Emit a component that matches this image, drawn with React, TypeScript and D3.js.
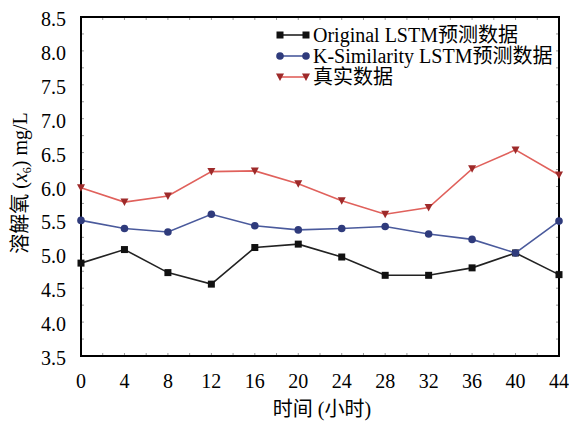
import React, { useEffect, useRef } from 'react';
import * as d3 from 'd3';

const hours = [0, 4, 8, 12, 16, 20, 24, 28, 32, 36, 40, 44];
const originalLstm = [4.87, 5.07, 4.73, 4.56, 5.10, 5.15, 4.96, 4.69, 4.69, 4.80, 5.02, 4.70];
const kSimilarityLstm = [5.50, 5.38, 5.33, 5.59, 5.42, 5.36, 5.38, 5.41, 5.30, 5.22, 5.02, 5.49];
const actual = [5.98, 5.77, 5.86, 6.22, 6.23, 6.04, 5.79, 5.59, 5.69, 6.26, 6.54, 6.17];
const yTicks = [3.5, 4.0, 4.5, 5.0, 5.5, 6.0, 6.5, 7.0, 7.5, 8.0, 8.5];
const seriesNames = ['Original LSTM预测数据', 'K-Similarity LSTM预测数据', '真实数据'];

const FONT = '"Liberation Serif", "Times New Roman", "Noto Sans CJK SC", serif';

const App = () => {
    const ref = useRef<SVGSVGElement>(null);

    useEffect(() => {
        var svg = d3.select(ref.current);
        svg.selectAll('*').remove();

        var left = 81, right = 559, top = 17, bottom = 356;

        var x = d3.scaleLinear().domain([0, 44]).range([left, right]);
        var y = d3.scaleLinear().domain([3.5, 8.5]).range([bottom, top]);

        // small inward ticks, faint
        var ticks = svg.append('g').attr('stroke', '#999').attr('stroke-width', 1);
        d3.range(0, 44.01, 2).forEach(v => {
            ticks.append('line').attr('x1', x(v)).attr('x2', x(v)).attr('y1', bottom).attr('y2', bottom - 3);
            ticks.append('line').attr('x1', x(v)).attr('x2', x(v)).attr('y1', top).attr('y2', top + 3);
        });
        d3.range(3.5, 8.51, 0.25).forEach(v => {
            ticks.append('line').attr('x1', left).attr('x2', left + 3).attr('y1', y(v)).attr('y2', y(v));
            ticks.append('line').attr('x1', right).attr('x2', right - 3).attr('y1', y(v)).attr('y2', y(v));
        });

        // frame
        svg.append('rect')
            .attr('x', left).attr('y', top)
            .attr('width', right - left).attr('height', bottom - top)
            .attr('fill', 'none').attr('stroke', '#000').attr('stroke-width', 2);

        // tick labels
        svg.append('g').selectAll('text').data(yTicks).enter().append('text')
            .attr('x', left - 15).attr('y', d => y(d) + 9)
            .attr('text-anchor', 'end')
            .style('font-family', FONT).style('font-size', '20px')
            .text(d => d.toFixed(1));

        svg.append('g').selectAll('text').data(hours).enter().append('text')
            .attr('x', d => x(d)).attr('y', bottom + 32)
            .attr('text-anchor', 'middle')
            .style('font-family', FONT).style('font-size', '20px')
            .text(d => d);

        // axis titles
        svg.append('text')
            .attr('x', 322).attr('y', 416)
            .attr('text-anchor', 'middle')
            .style('font-family', FONT).style('font-size', '20px')
            .text('时间 (小时)');

        var yt = svg.append('text')
            .attr('transform', 'translate(27,183) rotate(-90)')
            .attr('text-anchor', 'middle')
            .style('font-family', FONT).style('font-size', '20px');
        yt.append('tspan').text('溶解氧 (');
        yt.append('tspan').style('font-style', 'italic').text('x');
        yt.append('tspan').attr('dy', 4).style('font-size', '12px').text('6');
        yt.append('tspan').attr('dy', -4).text(') mg/L');

        var series = [
            { values: originalLstm, line: '#222', fill: '#111', shape: 'square' },
            { values: kSimilarityLstm, line: '#4a5a9c', fill: '#2f3b7c', shape: 'circle' },
            { values: actual, line: '#e0615c', fill: '#9e2a2a', shape: 'tri' }
        ];

        var lineGen = d3.line<number>().x((d, i) => x(hours[i])).y(d => y(d));

        function marker(g: any, cx: number, cy: number, shape: string, fill: string) {
            if (shape === 'square') {
                g.append('rect').attr('x', cx - 3.5).attr('y', cy - 3.5).attr('width', 7).attr('height', 7).attr('fill', fill);
            } else if (shape === 'circle') {
                g.append('circle').attr('cx', cx).attr('cy', cy).attr('r', 3.8).attr('fill', fill);
            } else {
                g.append('path').attr('d', `M${cx - 4},${cy - 3.5}L${cx + 4},${cy - 3.5}L${cx},${cy + 4}Z`).attr('fill', fill);
            }
        }

        var plot = svg.append('g');
        series.forEach(s => {
            plot.append('path').attr('d', lineGen(s.values)).attr('fill', 'none')
                .attr('stroke', s.line).attr('stroke-width', 1.6);
            s.values.forEach((v, i) => marker(plot, x(hours[i]), y(v), s.shape, s.fill));
        });

        // legend
        var lg = svg.append('g');
        series.forEach((s, i) => {
            var cy = 35 + i * 21;
            lg.append('line').attr('x1', 280).attr('x2', 306).attr('y1', cy).attr('y2', cy)
                .attr('stroke', s.line).attr('stroke-width', 1.6);
            marker(lg, 280, cy, s.shape, s.fill);
            marker(lg, 306, cy, s.shape, s.fill);
            lg.append('text').attr('x', 313).attr('y', cy + 7)
                .style('font-family', FONT).style('font-size', '20px')
                .text(seriesNames[i]);
        });
    }, []);

    return (
        <svg ref={ref} width={569} height={422}
            style={{ position: 'absolute', left: 0, top: 0, background: '#fff' }} />
    );
};

export default App;
